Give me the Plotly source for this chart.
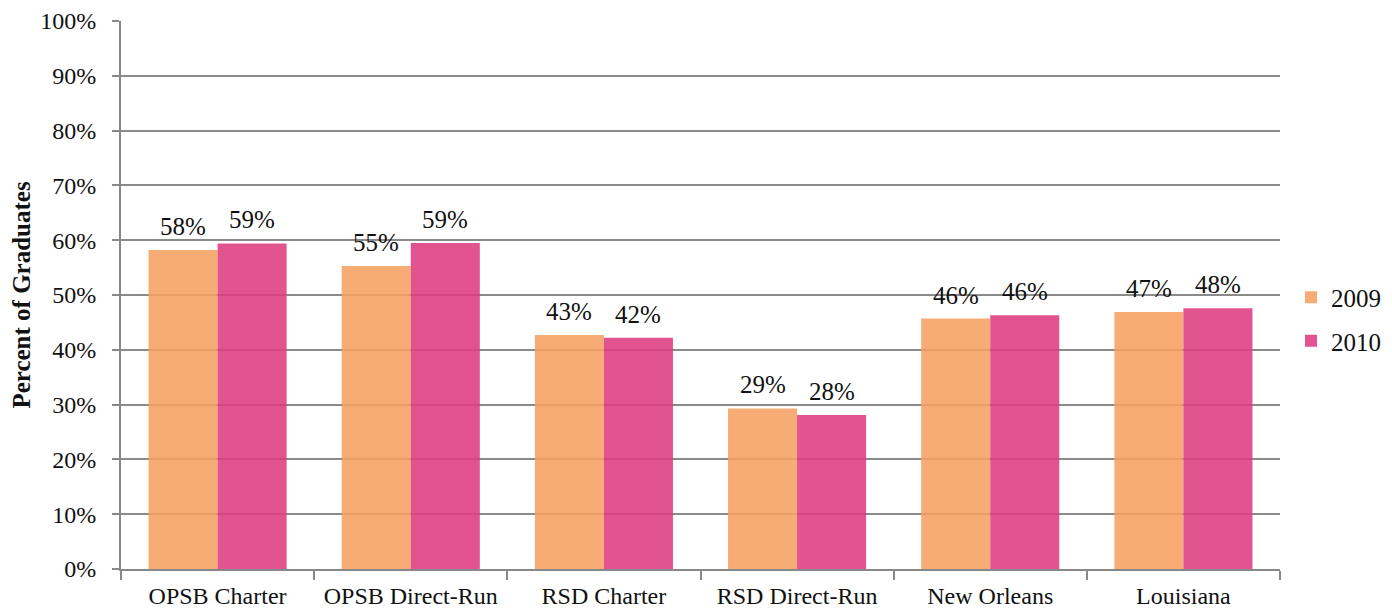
import plotly.graph_objects as go

categories = ["OPSB Charter", "OPSB Direct-Run", "RSD Charter", "RSD Direct-Run", "New Orleans", "Louisiana"]
values_2009 = [58.2, 55.3, 42.7, 29.3, 45.7, 46.9]
values_2010 = [59.4, 59.5, 42.2, 28.1, 46.3, 47.6]
labels_2009 = ["58%", "55%", "43%", "29%", "46%", "47%"]
labels_2010 = ["59%", "59%", "42%", "28%", "46%", "48%"]
y_ticks = [0, 10, 20, 30, 40, 50, 60, 70, 80, 90, 100]
y_tick_labels = [f"{v}%" for v in y_ticks]

FONT = "Liberation Serif"
BARGAP = 0.285
FIG_W, FIG_H = 1384, 603   # page body has an 8px margin
M_L, M_T, M_R, M_B = 113, 13, 112, 42
PLOT_W = FIG_W - M_L - M_R
half_bar_px = (1 - BARGAP) / 4 * PLOT_W / len(categories)

fig = go.Figure()
fig.add_trace(go.Bar(
    x=categories, y=values_2009, name="2009",
    marker=dict(color="rgba(245,160,95,0.87)", line=dict(width=0)),
    legendgroup="a",
))
fig.add_trace(go.Bar(
    x=categories, y=values_2010, name="2010",
    marker=dict(color="rgba(222,60,128,0.88)", line=dict(width=0)),
    legendgroup="b",
))

annotations = []
for cat, v, lab in zip(categories, values_2009, labels_2009):
    annotations.append(dict(x=cat, y=v, text=lab, showarrow=False, xref="x", yref="y",
                            xshift=-half_bar_px, yshift=8, yanchor="bottom",
                            font=dict(family=FONT, size=25, color="#111")))
for cat, v, lab in zip(categories, values_2010, labels_2010):
    annotations.append(dict(x=cat, y=v, text=lab, showarrow=False, xref="x", yref="y",
                            xshift=half_bar_px, yshift=8, yanchor="bottom",
                            font=dict(family=FONT, size=25, color="#111")))

fig.update_layout(
    width=FIG_W, height=FIG_H,
    margin=dict(l=M_L, r=M_R, t=M_T, b=M_B, autoexpand=False),
    paper_bgcolor="white", plot_bgcolor="white",
    barmode="group", bargap=BARGAP, bargroupgap=0,
    font=dict(family=FONT, size=24, color="#111"),
    legend=dict(x=1.0095, y=0.456, xanchor="left", yanchor="middle",
                font=dict(family=FONT, size=25), tracegroupgap=8,
                itemwidth=30),
    annotations=annotations,
)
fig.update_xaxes(
    showgrid=False, showline=True, linecolor="#888", linewidth=2,
    ticks="outside", tickson="boundaries", ticklen=9, tickcolor="#888", tickwidth=2,
    tickfont=dict(family=FONT, size=24), automargin=False, ticklabelstandoff=4,
)
fig.update_yaxes(
    range=[0, 100], tickvals=y_ticks, ticktext=y_tick_labels,
    showgrid=True, gridcolor="#8a8a8a", gridwidth=1.5,
    showline=True, linecolor="#888", linewidth=2,
    ticks="outside", ticklen=7, tickcolor="#888", tickwidth=2,
    tickfont=dict(family=FONT, size=24), automargin=False, ticklabelstandoff=11,
    title=dict(text="<b>Percent of Graduates</b>", font=dict(family=FONT, size=25), standoff=11),
    zeroline=False, layer="below traces",
)

fig.write_html("out.html")
